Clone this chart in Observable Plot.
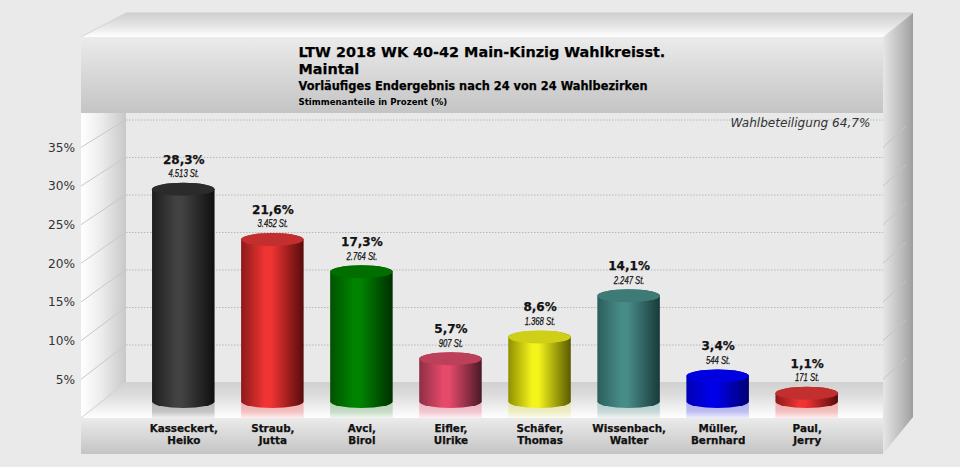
<!DOCTYPE html>
<html lang="de">
<head>
<meta charset="utf-8">
<script src="https://cdn.jsdelivr.net/npm/d3@7"></script>
<script src="https://cdn.jsdelivr.net/npm/@observablehq/plot@0.6"></script>
<style>
html,body{margin:0;padding:0;background:#eaeaea}
svg{display:block}
</style>
</head>
<body>
<div id="chart"></div>
<script>
// --- data ---
const candidates = ["Kasseckert,\nHeiko","Straub,\nJutta","Avci,\nBirol","Eifler,\nUlrike","Schäfer,\nThomas","Wissenbach,\nWalter","Müller,\nBernhard","Paul,\nJerry"];
const shares = [28.3,21.6,17.3,5.7,8.6,14.1,3.4,1.1];
const shareLabels = ["28,3%","21,6%","17,3%","5,7%","8,6%","14,1%","3,4%","1,1%"];
const voteLabels = ["4.513 St.","3.452 St.","2.764 St.","907 St.","1.368 St.","2.247 St.","544 St.","171 St."];
const yTicks = [5,10,15,20,25,30,35];
const titleLine1 = "LTW 2018 WK 40-42 Main-Kinzig Wahlkreisst.";
const titleLine2 = "Maintal";
const subtitle = "Vorläufiges Endergebnis nach 24 von 24 Wahlbezirken";
const unitNote = "Stimmenanteile in Prozent (%)";
const turnout = "Wahlbeteiligung 64,7%";

// --- styles ---
const sideDark  = ["#1e1e1e","#8c1a1a","#005200","#8e2e46","#8f8f00","#2b5e5c","#0000b4","#8c1a1a"];
const sideLight = ["#424242","#f03434","#008400","#e64a6a","#f4f41c","#488c88","#0000e8","#f03434"];
const sideShade = ["#0f0f0f","#580b0b","#003000","#4a1a28","#5a5a00","#193a3a","#000070","#580b0b"];
const capFill   = ["#2b2b2b","#c32e2e","#006f00","#bc405a","#cfcf18","#3e7a76","#0000e0","#c32e2e"];
const glow      = ["#444444","#f43636","#4a9a4a","#e84c6c","#dada40","#4a8e8a","#3030f0","#f43636"];

const table = candidates.map((name,i)=>({name,share:shares[i],shareLabel:shareLabels[i],voteLabel:voteLabels[i],i}));

// --- perspective of the 3D box: offsets in axis units ---
const backValue  = v => v + 2.6;             // on the back wall
const frontValue = v => v * 1.031 - 2.2;     // on the front edge (axis labels)
const floorFront = -2.2;

const NS = "http://www.w3.org/2000/svg";
const el = (name, attrs, parent) => {
  const n = document.createElementNS(NS, name);
  for (const k in attrs) n.setAttribute(k, attrs[k]);
  if (parent) parent.appendChild(n);
  return n;
};
function linear(defs, id, dir, stops){
  const g = el("linearGradient", {id, x1:0, y1:0, x2:dir==="h"?1:0, y2:dir==="h"?0:1}, defs);
  stops.forEach(([o,c,a]) => {
    const s = el("stop", {offset:o, "stop-color":c}, g);
    if (a !== undefined) s.setAttribute("stop-opacity", a);
  });
}
const gradients = () => {
  const defs = el("defs", {});
  table.forEach(d => {
    const i = d.i;
    linear(defs, "side"+i, "h", [[0,sideDark[i]],[.38,sideLight[i]],[.48,sideLight[i]],[1,sideShade[i]]]);
    linear(defs, "mirror"+i, "v", [[0,glow[i],.3],[.6,glow[i],.28],[1,glow[i],.08]]);
  });
  linear(defs,"band","v",[[0,"#ebebeb"],[1,"#c4c4c4"]]);
  linear(defs,"roof","v",[[0,"#cfcfcf"],[.55,"#e6e6e6"],[1,"#ffffff"]]);
  linear(defs,"leftWall","h",[[0,"#ffffff"],[.45,"#ececec"],[1,"#c8c8c8"]]);
  linear(defs,"floor","v",[[0,"#d0d0d0"],[.35,"#dcdcdc"],[1,"#ffffff"]]);
  linear(defs,"rightFace","h",[[0,"#e6e6e6"],[.85,"#ababab"],[1,"#9c9c9c"]]);
  return defs;
};

const box = (index, {y}) => {
  const g = el("g", {});
  const poly = (points, fill, stroke) => el("polygon", {points, fill, stroke:stroke||"none"}, g);
  poly("81,37 126,13 913,13 883,37", "url(#roof)");
  el("line",{x1:81,y1:37,x2:126,y2:13,stroke:"#d4d4d4"},g);
  el("line",{x1:126,y1:13,x2:913,y2:13,stroke:"#cccccc"},g);
  poly("126,113 883,113 883,382 126,382", "#e9e9e9");
  poly("81,113 126,113 126,382 81,418", "url(#leftWall)");
  poly("81,418 126,382 883,382 883,418", "url(#floor)");
  el("line",{x1:81,y1:418,x2:126,y2:382,stroke:"#d2d2d2"},g);
  poly("883,37 913,13 913,417 883,454", "url(#rightFace)");
  for (const v of yTicks) {
    const yb = y(backValue(v)), yf = y(frontValue(v));
    el("line",{x1:81,y1:yf,x2:126,y2:yb,stroke:"#c8c8c8"},g);
    el("line",{x1:883,y1:yf,x2:906,y2:yf-21,stroke:"#c4c4c4"},g);
  }
  el("rect",{x:81,y:37,width:802,height:76,fill:"url(#band)"},g);
  el("rect",{x:81,y:418,width:802,height:36,fill:"url(#band)"},g);
  return g;
};

// squeeze the vote labels to the narrow face of the original
const measure = document.createElement("canvas").getContext("2d");
const narrow = (index, scales, values, dimensions, context, next) => {
  const g = next(index, scales, values, dimensions, context);
  g.querySelectorAll("text").forEach(t => {
    measure.font = "italic 10px 'Liberation Sans'";
    t.setAttribute("textLength", (measure.measureText(t.textContent).width * 0.77).toFixed(1));
    t.setAttribute("lengthAdjust", "spacingAndGlyphs");
  });
  return g;
};
const heavy = {stroke:"#111", strokeWidth:.25};

const chart = Plot.plot({
  width: 960, height: 467,
  marginLeft: 81, marginRight: 77, marginTop: 37, marginBottom: 49,
  style: {background:"#eaeaea", fontFamily:"'DejaVu Sans',Verdana,sans-serif", overflow:"visible"},
  x: {domain: candidates, range:[125.5,864.5], padding:.298, round:false, axis:null, label:null},
  y: {domain:[0,40], range:[401.5,101.5], axis:null, label:null},
  marks: [
    gradients,
    box,
    Plot.ruleY(yTicks, {y: backValue, insetLeft:45, stroke:"#b8b8b8", strokeWidth:1, strokeDasharray:"1.5,1.5"}),
    // floor reflections
    Plot.barY(table, {x:"name", y1:floorFront, y2:0, fill:d=>`url(#mirror${d.i})`}),
    // cylinder bodies
    Plot.barY(table, {x:"name", y1:0, y2:"share", insetTop:-6.5, insetBottom:-6.5, rx:31.3, ry:6.5, fill:d=>`url(#side${d.i})`}),
    // cylinder caps
    Plot.barY(table, {x:"name", y1:"share", y2:"share", insetTop:-6.5, insetBottom:-6.5, rx:31.3, ry:6.5, fill:d=>capFill[d.i]}),
    // value labels
    Plot.text(table, {x:"name", y:"share", text:"shareLabel", dy:-30, fontSize:12, fontWeight:"bold", fill:"#111", ...heavy}),
    Plot.text(table, {x:"name", y:"share", text:"voteLabel", dy:-16, fontSize:10.5, fontStyle:"italic", fontFamily:"'Liberation Sans',sans-serif", fill:"#111", ...heavy, render:narrow}),
    // axes
    Plot.text(yTicks, {y: frontValue, text:d=>d+"%", frameAnchor:"left", textAnchor:"end", dx:-6.5, fontSize:12.2, fill:"#333"}),
    Plot.axisX({anchor:"bottom", tickSize:0, tickPadding:5, label:null, fontSize:10.4, fontWeight:"bold", lineHeight:1.15, fill:"#111", textStroke:"#111", textStrokeWidth:.25, textStrokeOpacity:1}),
    // header
    Plot.text([titleLine1], {frameAnchor:"top-left", dx:217, dy:15, lineAnchor:"middle", fontSize:14.4, fontWeight:"bold", fill:"#000", ...heavy}),
    Plot.text([titleLine2], {frameAnchor:"top-left", dx:217, dy:32, lineAnchor:"middle", fontSize:14.4, fontWeight:"bold", fill:"#000", ...heavy}),
    Plot.text([subtitle], {frameAnchor:"top-left", dx:217, dy:49, lineAnchor:"middle", fontSize:11.4, fontWeight:"bold", fill:"#000", ...heavy}),
    Plot.text([unitNote], {frameAnchor:"top-left", dx:217, dy:65, lineAnchor:"middle", fontSize:8.6, fontWeight:"bold", fill:"#000"}),
    Plot.text([turnout], {frameAnchor:"top-right", dx:-13, dy:86, lineAnchor:"middle", fontSize:12.1, fontStyle:"italic", fill:"#333"})
  ]
});
document.getElementById("chart").appendChild(chart);
</script>
</body>
</html>
